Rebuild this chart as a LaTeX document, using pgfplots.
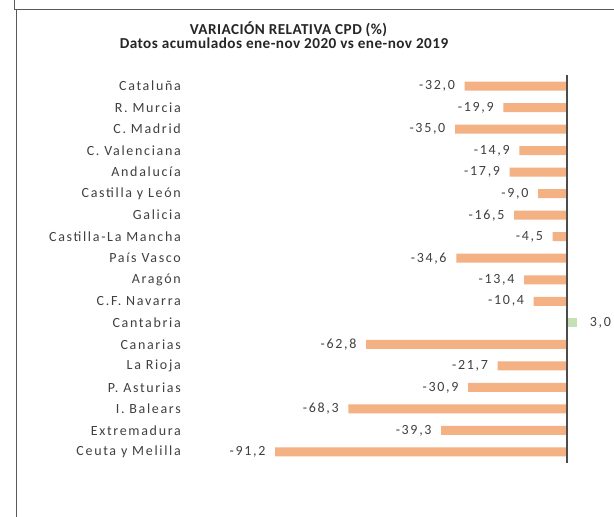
\documentclass[border=0pt]{standalone}
\usepackage{fontspec}
\setmainfont{Carlito}
\newfontfamily\lblfont{Carlito}[LetterSpace=12]
\newfontfamily\ttlfont{Carlito}[LetterSpace=3]
\usepackage{pgfplots}
\pgfplotsset{compat=1.18}
\definecolor{barneg}{HTML}{F4B183}
\definecolor{barpos}{HTML}{C5E0B4}
\definecolor{txt}{HTML}{404040}
\begin{document}
\begin{tikzpicture}[x=1pt,y=1pt]
\path[use as bounding box] (0,0) rectangle (614,517);
\fill[white] (0,0) rectangle (614,517);
% frame
\draw[gray!70!black, line width=1pt] (14,517) -- (14,507);
\draw[gray!70!black, line width=1pt] (14,507) -- (614,507);
\draw[gray!70!black, line width=1pt] (16,507) -- (16,0);
% title
\node[anchor=base, font=\ttlfont\fontsize{15.2}{17}\selectfont\bfseries, text=black!85] at (288.5,517-34.3) {VARIACIÓN RELATIVA CPD (\%)};
\node[anchor=base, font=\ttlfont\fontsize{15.2}{17}\selectfont\bfseries, text=black!85] at (284,517-48.5) {Datos acumulados ene-nov 2020 vs ene-nov 2019};
\begin{axis}[
  at={(247pt,54.25pt)}, anchor=south west,
  scale only axis, width=352pt, height=387.5pt,
  xmin=-100, xmax=10, ymin=-0.5, ymax=17.5,
  y dir=reverse,
  xbar, bar width=9pt, bar shift=0pt,
  axis line style={draw=none},
  xtick=\empty,
  ytick={0,...,17},
  major tick length=0pt,
  yticklabels={Cataluña,R. Murcia,C. Madrid,C. Valenciana,Andalucía,Castilla y León,Galicia,Castilla-La Mancha,País Vasco,Aragón,C.F. Navarra,Cantabria,Canarias,La Rioja,P. Asturias,I. Balears,Extremadura,Ceuta y Melilla},
  yticklabel style={anchor=east, inner sep=0pt, xshift=-66pt, font=\lblfont\fontsize{14}{16}\selectfont, text=txt},
  nodes near coords,
  nodes near coords style={font=\lblfont\fontsize{14}{16}\selectfont, text=txt, inner sep=0pt},
  /pgf/number format/fixed,
  /pgf/number format/fixed zerofill,
  /pgf/number format/precision=1,
  /pgf/number format/use comma,
  /pgf/number format/assume math mode=true,
  clip=false,
]
\addplot[draw=none, fill=barneg, nodes near coords style={anchor=east, xshift=-9.5pt}] coordinates {
(-32.0,0) (-19.9,1) (-35.0,2) (-14.9,3) (-17.9,4) (-9.0,5) (-16.5,6) (-4.5,7) (-34.6,8) (-13.4,9) (-10.4,10) (-62.8,12) (-21.7,13) (-30.9,14) (-68.3,15) (-39.3,16) (-91.2,17)
};
\addplot[draw=none, fill=barpos, nodes near coords style={anchor=west, xshift=13pt}] coordinates {
(3.0,11)
};
\draw[gray!60!black, line width=1.6pt] (axis cs:0,-0.5) -- (axis cs:0,17.5);
\end{axis}
\end{tikzpicture}
\end{document}
